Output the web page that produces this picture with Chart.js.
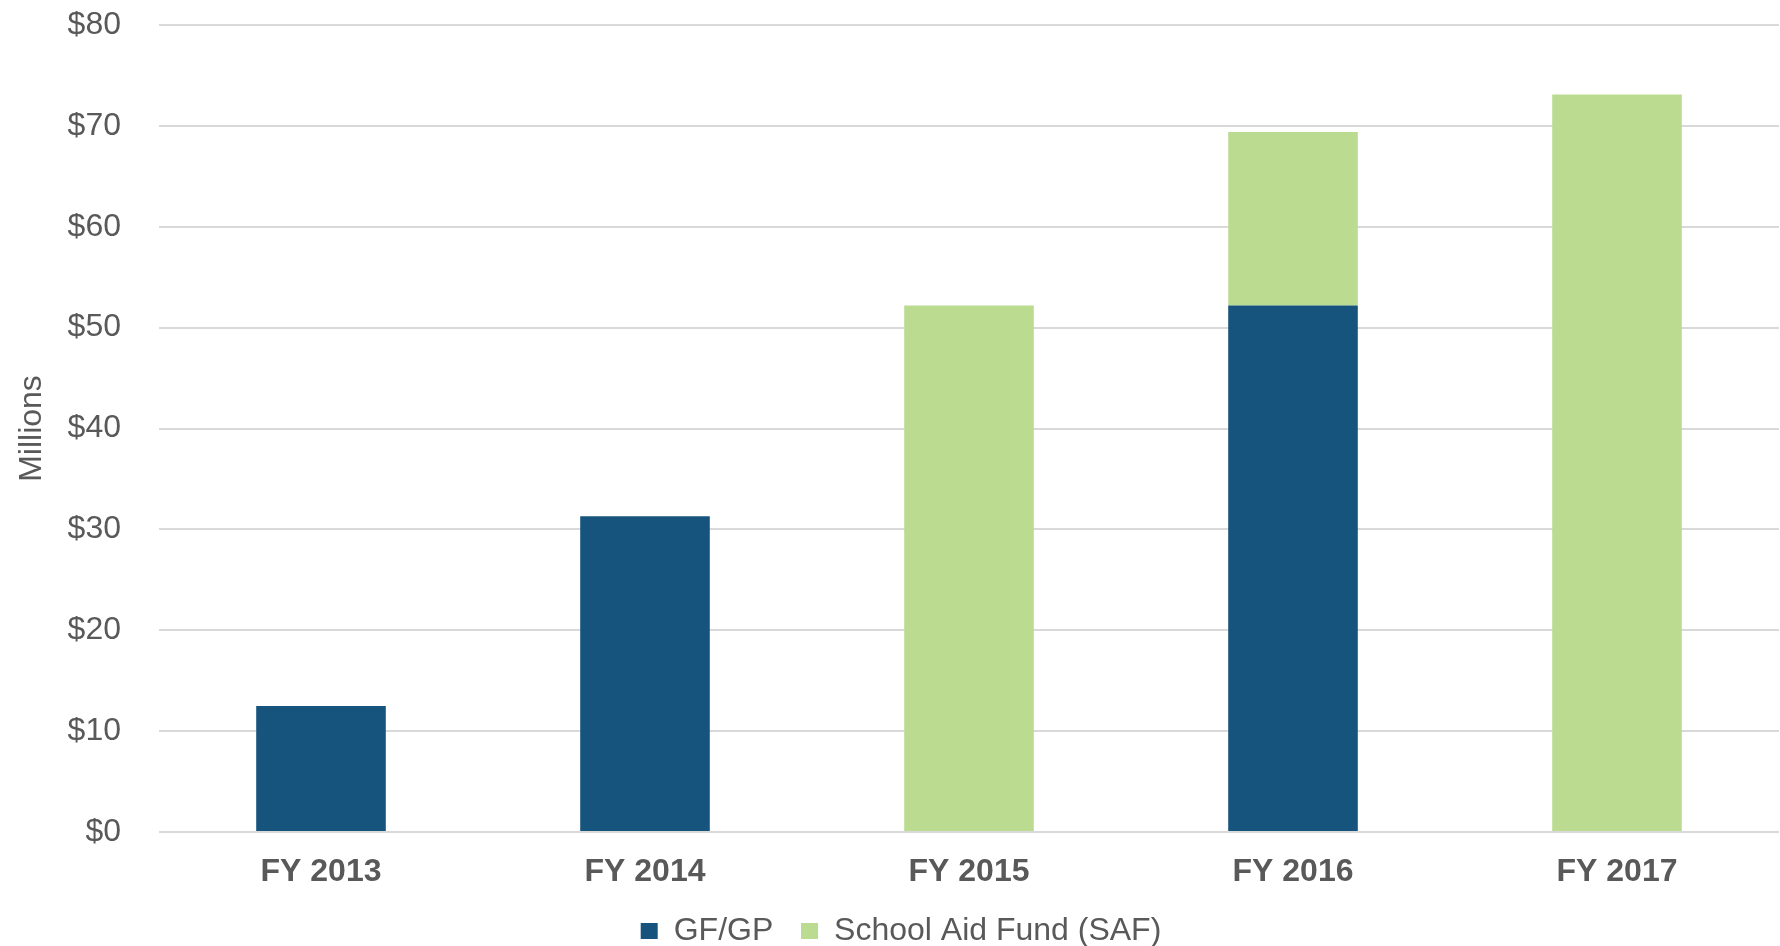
<!DOCTYPE html>
<html>
<head>
<meta charset="utf-8">
<script src="https://cdn.jsdelivr.net/npm/chart.js@4/dist/chart.umd.min.js"></script>
<style>
  html, body { margin: 0; padding: 0; background: #fff; }
  #wrap { width: 1780px; height: 946px; }
</style>
</head>
<body>
<div id="wrap"><canvas id="chart"></canvas></div>
<script>
// fiscal years on the x axis
const years = ['FY 2013', 'FY 2014', 'FY 2015', 'FY 2016', 'FY 2017'];
// $ millions
const gfgp = [12.5, 31.3, 0, 52.2, 0];
const saf = [0, 0, 52.2, 17.2, 73.1];
const seriesNames = ['GF/GP', 'School Aid Fund (SAF)'];

const textColor = '#595959';
const fontFamily = '"Liberation Sans", Arial, sans-serif';

new Chart(document.getElementById('chart'), {
    type: 'bar',
    data: {
        labels: years,
        datasets: [
            { label: seriesNames[0], data: gfgp, backgroundColor: '#17547d', barPercentage: 0.4, categoryPercentage: 1 },
            { label: seriesNames[1], data: saf, backgroundColor: '#bbdb91', barPercentage: 0.4, categoryPercentage: 1 }
        ]
    },
    options: {
        responsive: true,
        maintainAspectRatio: false,
        animation: false,
        layout: { padding: { left: 23, top: 25, right: 1, bottom: -11 } },
        plugins: {
            tooltip: { enabled: false },
            legend: {
                position: 'bottom',
                labels: {
                    boxWidth: 17,
                    boxHeight: 16,
                    padding: 10,
                    color: textColor,
                    font: { family: fontFamily, size: 32 },
                    // a little extra room after the first item, like the original legend
                    generateLabels: chart => {
                        const items = Chart.defaults.plugins.legend.labels.generateLabels(chart);
                        items[0].text += '\u00a0\u00a0';
                        return items;
                    }
                }
            }
        },
        scales: {
            x: {
                stacked: true,
                grid: { display: false },
                border: { display: false },
                ticks: {
                    color: textColor,
                    padding: 13,
                    font: { family: fontFamily, size: 32, weight: 'bold' }
                },
                afterFit: s => { s.height = 73; }
            },
            y: {
                stacked: true,
                min: 0,
                max: 80,
                border: { display: false },
                grid: { color: '#d9d9d9', lineWidth: 2, drawTicks: false },
                ticks: {
                    stepSize: 10,
                    color: textColor,
                    padding: 38,
                    font: { family: fontFamily, size: 32 },
                    callback: v => '$' + v
                },
                title: {
                    display: true,
                    text: 'Millions',
                    color: textColor,
                    padding: { top: -10, bottom: 0 },
                    font: { family: fontFamily, size: 32 }
                },
                afterFit: s => {
                    s.width = 136;
                    s.paddingTop = 0;
                    s.paddingBottom = 0;
                }
            }
        }
    }
});
</script>
</body>
</html>
